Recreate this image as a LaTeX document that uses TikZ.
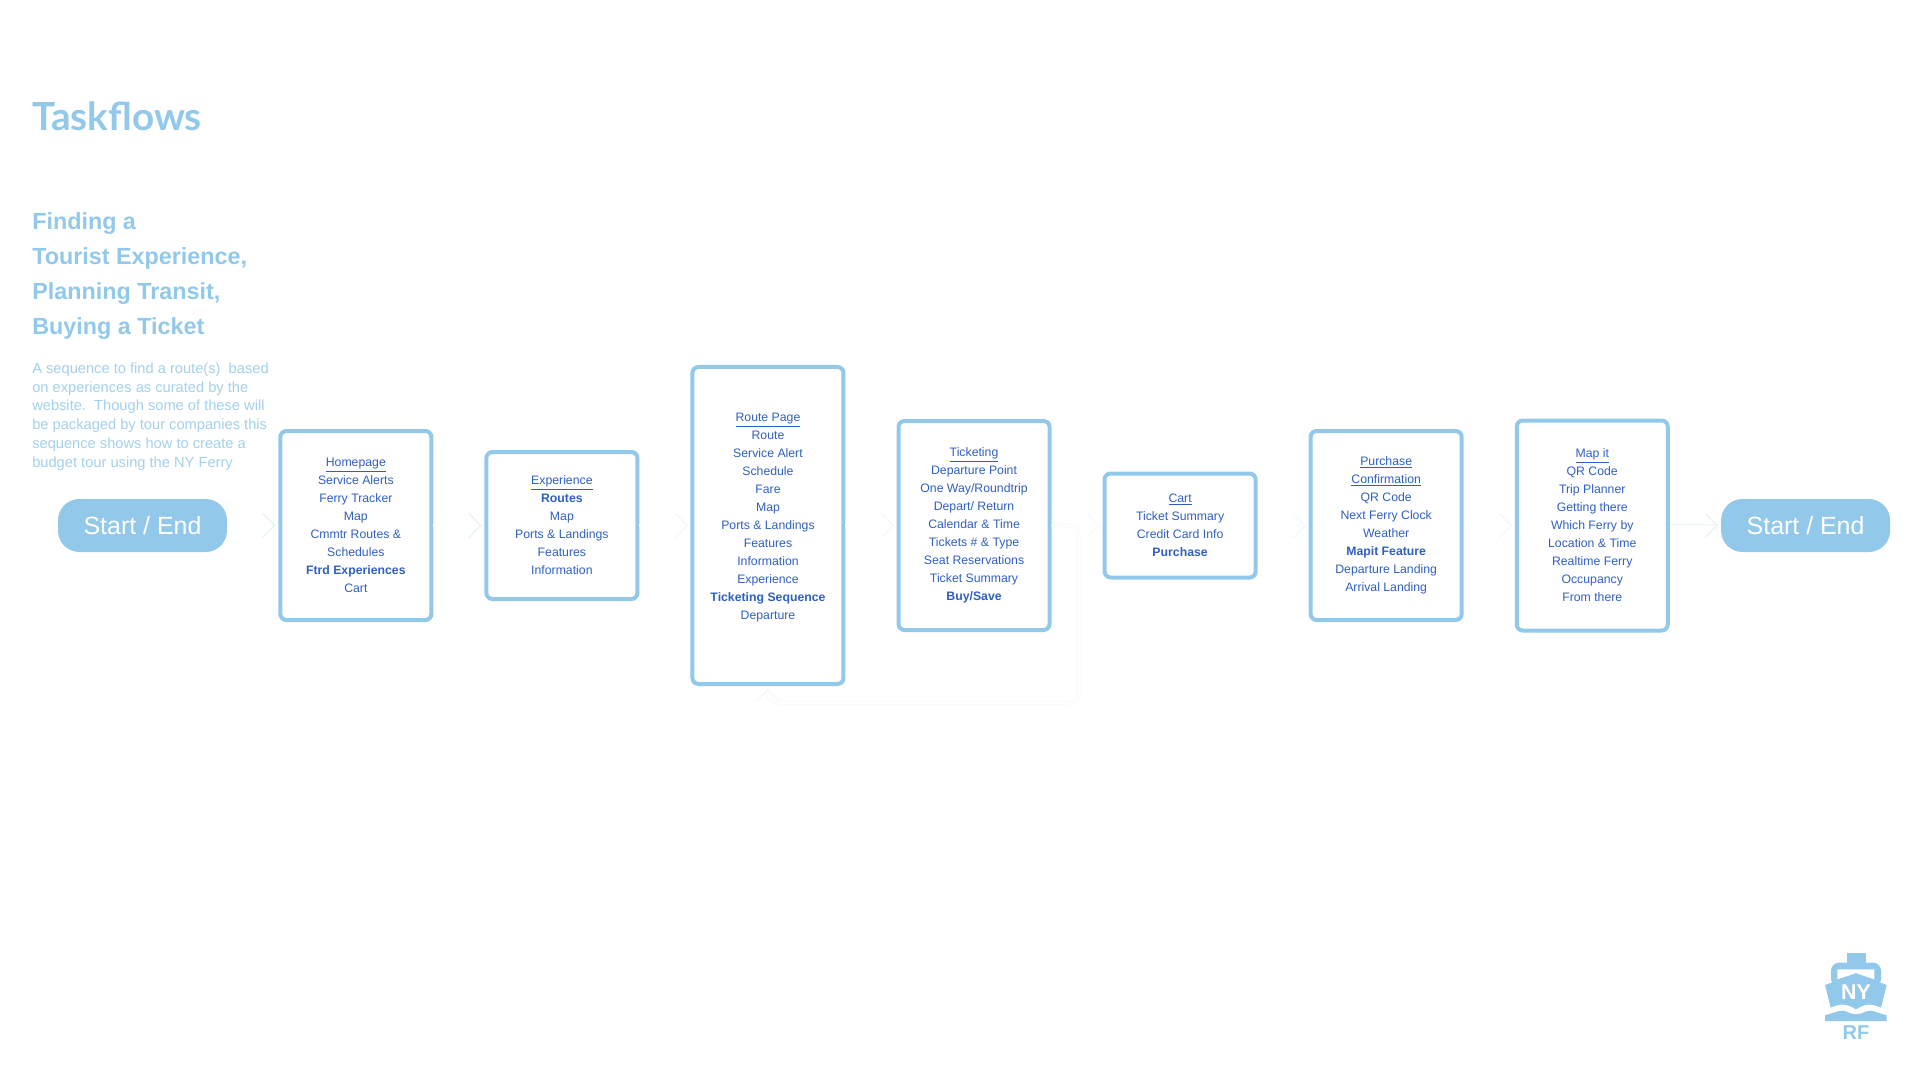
\documentclass[tikz,border=0pt]{standalone}
\usepackage{fontspec}
\setmainfont{Liberation Sans}
\newfontfamily\titlefont{Lato}
\usetikzlibrary{positioning,arrows.meta}
\definecolor{skyline}{HTML}{92C8E9}
\definecolor{skytext}{HTML}{A3D0EC}
\definecolor{inkblue}{HTML}{2F5FC0}
\definecolor{faintline}{HTML}{FCFDFE}
\definecolor{loopline}{HTML}{F5F9FC}
\definecolor{faintedge}{HTML}{E6F1F9}
\definecolor{fainteredge}{HTML}{EFF6FB}
\newcommand{\hd}[1]{\underline{#1}}
\tikzset{
	pagebox/.style={draw=skyline, line width=3pt, rounded corners=4.5pt, inner sep=0pt, minimum width=113.25pt, text=inkblue, align=center, font=\fontsize{9.2}{13.5}\selectfont},
	startend/.style={fill=skyline, rounded corners=16pt, inner sep=0pt, minimum width=126.75pt, minimum height=39.75pt, text=white, font=\fontsize{18.7}{22}\selectfont},
	flowline/.style={draw=faintline, line width=0.5pt, double=white, double distance=1.5pt, shorten >=2pt, -{Straight Barb[length=9pt,width=18pt,color=faintedge,line width=1pt]}},
	flowthin/.style={draw=faintline, line width=0.5pt, double=white, double distance=1.5pt, shorten >=2pt, -{Straight Barb[length=9pt,width=18pt,color=fainteredge,line width=0.6pt]}}
}
\begin{document}
\begin{tikzpicture}[x=0.75pt,y=-0.75pt]
	\useasboundingbox (0,0) rectangle (1920,1080);
	
	\node[anchor=base west, inner sep=0pt, text=skyline, font=\titlefont\bfseries\fontsize{29}{34}\selectfont] (title) at (32,131) {Taskflows};
	\node[anchor=north west, inner sep=0pt, align=left, text=skyline, font=\bfseries\fontsize{17.5}{26.25}\selectfont] (heading) at (32,212) {Finding a\\Tourist Experience,\\Planning Transit,\\Buying a Ticket};
	\node[anchor=north west, inner sep=0pt, align=left, text=skytext, font=\fontsize{11}{14.1}\selectfont] (intro) at (32,362.5) {A sequence to find a route(s)\ \ based\\on experiences as curated by the\\website.\ \ Though some of these will\\be packaged by tour companies this\\sequence shows how to create a\\budget tour using the NY Ferry};
	
	\node[startend] (start) at (142.5,525.5) {Start / End};
	\node[pagebox, minimum height=141.75pt, right=38.3pt of start] (home) {\hd{Homepage}\\Service Alerts\\Ferry Tracker\\Map\\Cmmtr Routes \&\\Schedules\\\textbf{Ftrd Experiences}\\Cart};
	\node[pagebox, minimum height=110.25pt, right=38.3pt of home] (exper) {\hd{Experience}\\\textbf{Routes}\\Map\\Ports \& Landings\\Features\\Information};
	\node[pagebox, minimum height=237.75pt, right=38.3pt of exper] (route) {\hd{Route Page}\\Route\\Service Alert\\Schedule\\Fare\\Map\\Ports \& Landings\\Features\\Information\\Experience\\\textbf{Ticketing Sequence}\\Departure\\~};
	\node[pagebox, minimum height=156.75pt, right=38.3pt of route] (ticket) {\hd{Ticketing}\\Departure Point\\One Way/Roundtrip\\Depart/ Return\\Calendar \& Time\\Tickets \# \& Type\\Seat Reservations\\Ticket Summary\\\textbf{Buy/Save}};
	\node[pagebox, minimum height=78pt, right=38.3pt of ticket] (cart) {\hd{Cart}\\Ticket Summary\\Credit Card Info\\\textbf{Purchase}};
	\node[pagebox, minimum height=141.75pt, right=38.3pt of cart] (confirm) {\hd{Purchase}\\\hd{Confirmation}\\QR Code\\Next Ferry Clock\\Weather\\\textbf{Mapit Feature}\\Departure Landing\\Arrival Landing};
	\node[pagebox, minimum height=157.5pt, right=38.3pt of confirm] (mapit) {\hd{Map it}\\QR Code\\Trip Planner\\Getting there\\Which Ferry by\\Location \& Time\\Realtime Ferry\\Occupancy\\From there};
	\node[startend, right=38.3pt of mapit] (finish) {Start / End};
	
	\draw[flowline] (start)--(home);
	\draw[flowline] (home)--(exper);
	\draw[flowthin] (exper)--(route);
	\draw[flowthin] (route)--(ticket);
	\draw[flowthin] (ticket)--(cart);
	\draw[flowthin] (cart)--(confirm);
	\draw[flowthin] (confirm)--(mapit);
	\draw[flowline, draw=faintedge] (mapit)--(finish);
	\coordinate (loopc) at (1079,703);
	\draw[flowthin, draw=loopline, rounded corners=8pt] (ticket.east) -| (loopc) -| (route.south);
	
	% ferry logo, in 1/3 px
	\begin{scope}[shift={(1800,940)}, scale=1/3]
		\fill[skyline] (140,40) rectangle (197,72);
		\fill[skyline, rounded corners=6pt] (93,140) -- (93,68) -- (243,68) -- (243,140) -- cycle;
		\fill[white] (112,88) -- (223,88) -- (223,118) -- (168,100) -- (112,118) -- cycle;
		\fill[skyline] (75,135) -- (168,100) -- (260,135) -- (243,203) .. controls (215,190) and (195,190) .. (168,208) .. controls (140,190) and (120,190) .. (92,203) -- cycle;
		\node[text=white, inner sep=0pt, font=\bfseries\fontsize{16}{18}\selectfont] (nylabel) at (168,155) {NY};
		\fill[skyline] (75,225) .. controls (100,222) and (120,205) .. (140,215) .. controls (155,225) and (180,225) .. (196,215) .. controls (215,205) and (235,222) .. (260,225) -- (260,243) -- (75,243) -- cycle;
		\node[text=skyline, inner sep=0pt, font=\bfseries\fontsize{15}{18}\selectfont] (rflabel) at (168,278) {RF};
	\end{scope}
\end{tikzpicture}
\end{document}
